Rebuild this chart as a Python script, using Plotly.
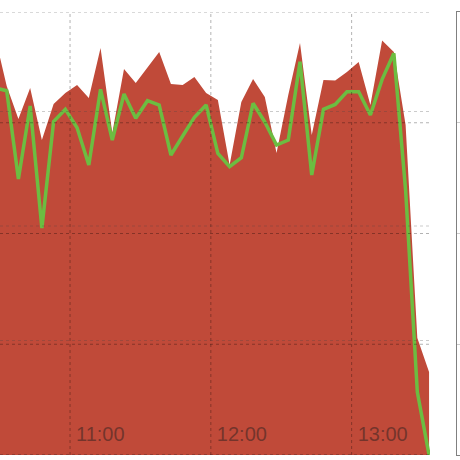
import plotly.graph_objects as go

DAY = "2024-01-01 "

# sample times (5 min steps)
times = [
    "10:28", "10:33", "10:38", "10:43", "10:48", "10:53", "10:58",
    "11:03", "11:08", "11:13", "11:18", "11:23", "11:28", "11:33", "11:38", "11:43", "11:48", "11:53", "11:58",
    "12:03", "12:08", "12:13", "12:18", "12:23", "12:28", "12:33", "12:38", "12:43", "12:48", "12:53", "12:58",
    "13:03", "13:08", "13:13", "13:18", "13:23", "13:28", "13:33",
]

# red filled area (left scale)
area_vals = [
    3659, 3223, 2934, 3205, 2751, 3066, 3162, 3231, 3118, 3555,
    2812, 3371, 3249, 3389, 3520, 3240, 3231, 3301, 3162, 3100,
    2533, 3083, 3284, 3127, 2638, 3144, 3598, 2795, 3275, 3271,
    3345, 3432, 3057, 3620, 3520, 2882, 1022, 725,
]

# green line (second scale)
line_vals = [
    3314, 3289, 2492, 3151, 2050, 3010, 3121, 2955, 2619, 3302,
    2844, 3260, 3040, 3199, 3160, 2709, 2880, 3049, 3160, 2724,
    2603, 2684, 3176, 3007, 2799, 2844, 3551, 2528, 3121, 3165,
    3280, 3280, 3070, 3392, 3627, 2393, 569, 0,
]

area_grid = [0, 1000, 2000, 3000]
line_grid = [0, 1000, 2000, 3000, 4000]
hour_ticks = ["11:00", "12:00", "13:00"]

RED = "#c04a39"
GREEN = "#6cbd41"

x = [DAY + t for t in times]

fig = go.Figure()

fig.add_trace(go.Scatter(
    x=x, y=area_vals, mode="lines", fill="tozeroy",
    line=dict(width=0, color=RED), fillcolor=RED,
    xaxis="x", yaxis="y", showlegend=False, hoverinfo="skip"
))
fig.add_trace(go.Scatter(
    x=x, y=line_vals, mode="lines",
    line=dict(width=3.5, color=GREEN),
    xaxis="x", yaxis="y2", showlegend=False
))
# empty trace so the side frame gets drawn
fig.add_trace(go.Scatter(x=[None], y=[None], xaxis="x3", yaxis="y3", showlegend=False))

# dotted grid drawn over the area
for v in area_grid:
    fig.add_shape(type="line", xref="x domain", x0=0, x1=1, yref="y", y0=v, y1=v,
                  line=dict(color="rgba(70,70,70,0.28)", width=1, dash="dot"), layer="above")
for v in line_grid:
    fig.add_shape(type="line", xref="x domain", x0=0, x1=1, yref="y2", y0=v, y1=v,
                  line=dict(color="rgba(0,0,0,0.3)", width=1, dash="dot"), layer="above")
for h in hour_ticks:
    fig.add_shape(type="line", xref="x", x0=DAY + h, x1=DAY + h, yref="y domain", y0=0, y1=1,
                  line=dict(color="rgba(0,0,0,0.3)", width=1, dash="dot"), layer="above")

fig.update_layout(
    width=460, height=460,
    margin=dict(l=0, r=0, t=12, b=5),
    paper_bgcolor="white", plot_bgcolor="rgba(0,0,0,0)",
    font=dict(family="Liberation Sans, Arial, sans-serif"),
    xaxis=dict(
        domain=[0, 430 / 460], type="date",
        range=[DAY + "10:30:09", DAY + "13:33:24"],
        tickvals=[DAY + h for h in hour_ticks], ticktext=hour_ticks,
        ticklabelposition="inside right", ticks="",
        tickfont=dict(size=20, color="rgba(40,30,30,0.5)"),
        ticklabelshift=6, ticklabelstandoff=4,
        showgrid=False, zeroline=False, showline=False, layer="above traces",
    ),
    yaxis=dict(domain=[0, 1], range=[0, 3869], visible=False),
    yaxis2=dict(overlaying="y", range=[0, 4000], visible=False),
    xaxis3=dict(domain=[456.5 / 460, 1], anchor="y3", showline=True, mirror=True,
                linecolor="#808080", linewidth=1, showticklabels=False,
                showgrid=False, zeroline=False, ticks=""),
    yaxis3=dict(domain=[0, 1], anchor="x3", range=[0, 4000], showline=True,
                linecolor="#808080", linewidth=1, tickvals=[1000, 2000, 3000],
                ticks="inside", ticklen=3, tickcolor="#cccccc",
                showticklabels=False, showgrid=False, zeroline=False),
)

# page has a default 8px body margin; drop it so the figure sits at 0,0
fig.write_html("out.html", config={"displayModeBar": False},
               post_script="document.body.style.margin='0';")
